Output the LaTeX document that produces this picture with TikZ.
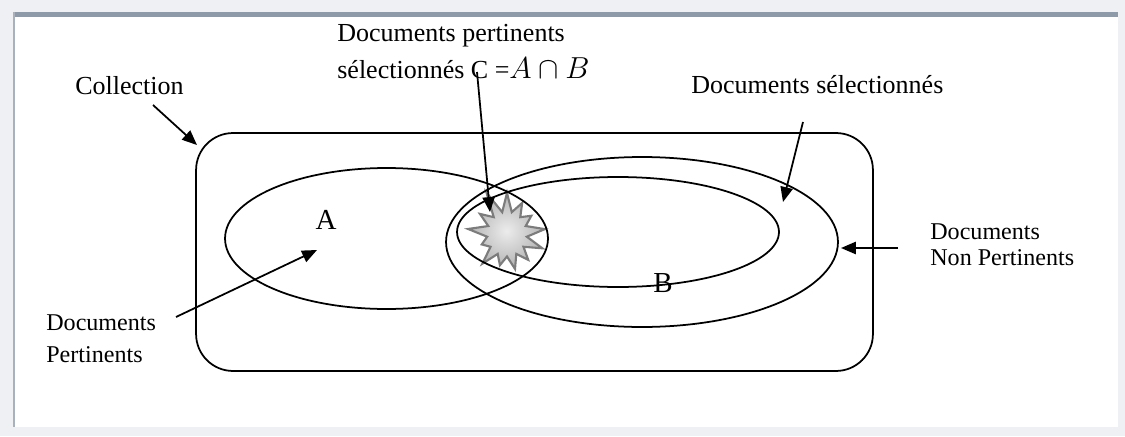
\documentclass[tikz,border=0pt]{standalone}
\usepackage{fontspec}
\setmainfont{Liberation Serif}
\usetikzlibrary{arrows.meta, shapes.geometric, shapes.symbols}

\definecolor{pagegray}{HTML}{EEF0F3}
\definecolor{barblue}{HTML}{8E9AA8}
\definecolor{edgegray}{HTML}{A9B1BC}
\definecolor{burstline}{HTML}{7C7C7C}

\begin{document}
\begin{tikzpicture}[
    x=0.02cm, y=-0.02cm,
    >={Triangle[length=8.5pt,width=7pt]},
    lab/.style={inner sep=0pt, anchor=base west, align=left,
                font=\fontsize{14.8}{20.5}\selectfont},
    sml/.style={inner sep=0pt, anchor=base west, align=left,
                font=\fontsize{13.7}{14.8}\selectfont},
    letter/.style={inner sep=0pt, font=\fontsize{16.5}{18}\selectfont},
    set/.style={draw, ellipse, line width=1pt, inner sep=0pt},
    sig/.style={->, line width=1pt},
  ]

  %% ---- page frame ---------------------------------------------------
  \useasboundingbox (0,0) rectangle (1125,436);
  \fill[pagegray] (0,0) rectangle (1125,436);
  \fill[white]    (13,12) rectangle (1118,427);
  \fill[barblue]  (13,12) rectangle (1118,17);
  \fill[edgegray] (13,12) rectangle (15,427);

  %% ---- collection and sets ------------------------------------------
  \node[draw, line width=1pt, rounded corners=0.74cm,
        minimum width=13.54cm, minimum height=4.76cm] (coll) at (534.5,252) {};

  \node[starburst, starburst points=13, starburst point height=0.5cm,
        random starburst=11, draw=burstline, line width=1.2pt,
        inner color=gray!15, outer color=gray!60,
        minimum width=1.8cm, minimum height=1.9cm] (burst) at (507,234) {};

  \node[set, minimum width=6.46cm, minimum height=2.82cm] (setA)   at (386.5,238.5) {};
  \node[set, minimum width=7.84cm, minimum height=3.4cm]  (setB)   at (642,242) {};
  \node[set, minimum width=6.44cm, minimum height=2.2cm]  (setBin) at (618,232) {};

  \node[letter] (labA) at (326,220) {A};
  \node[letter] (labB) at (663,283) {B};

  %% ---- labels (multi-line: base = last line) -----------------------
  \node[lab] (collLab)  at (75,94)  {Collection};
  \node[lab] (selLab)   at (691,93) {Documents sélectionnés};
  \node[lab] (interLab) at (337,78)
  {Documents pertinents\\sélectionnés C =\fontsize{16.5}{20.5}\selectfont$A\cap B$};
  \node[sml] (npLab) at (930,265) {Documents\\Non Pertinents};
  \node[sml, font=\fontsize{13.7}{18.2}\selectfont] (pLab) at (46,362)
  {Documents\\Pertinents};

  %% ---- arrows -------------------------------------------------------
  \coordinate (collTail)  at (153,105);
  \coordinate (collTip)   at (197,145);
  \coordinate (interTail) at (477,72);
  \coordinate (interTip)  at (490,212);
  \coordinate (selTail)   at (803,122);
  \coordinate (selTip)    at (783,202);
  \coordinate (npTail)    at (898,248);
  \coordinate (npTip)     at (841,248);
  \coordinate (pTail)     at (176,317);
  \coordinate (pTip)      at (317,250);

  \draw[sig] (collTail)  -- (collTip);
  \draw[sig] (interTail) -- (interTip);
  \draw[sig] (selTail)   -- (selTip);
  \draw[sig] (npTail)    -- (npTip);
  \draw[sig] (pTail)     -- (pTip);

\end{tikzpicture}
\end{document}
